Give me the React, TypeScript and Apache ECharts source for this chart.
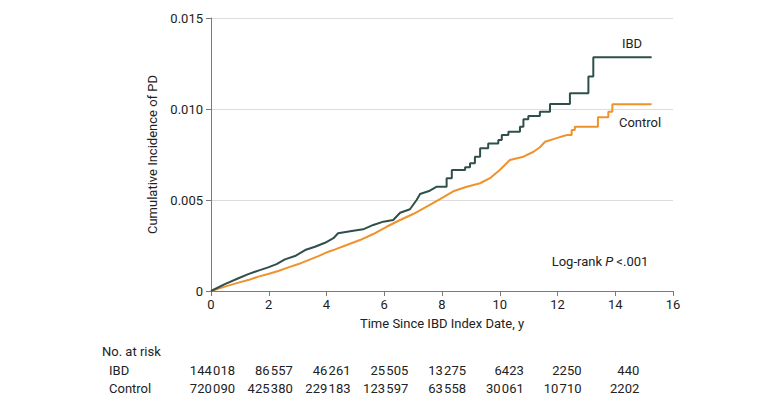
import React, { useEffect, useRef } from "react";
import * as echarts from "echarts";

// IBD cumulative incidence: dense early part (many tiny steps) and sparse stepped tail
const ibdEarly: [number, number][] = [
  [0, 0], [0.48, 0.00038], [0.95, 0.0007], [1.29, 0.00093], [1.64, 0.00112], [1.98, 0.0013],
  [2.27, 0.00148], [2.56, 0.00174], [2.91, 0.00192], [3.26, 0.00225], [3.6, 0.00243],
  [3.95, 0.00265], [4.24, 0.0029], [4.4, 0.00317], [4.93, 0.00331], [5.27, 0.00339],
  [5.62, 0.00363], [5.97, 0.00381], [6.31, 0.0039], [6.55, 0.0043], [6.89, 0.00449],
  [7.12, 0.005], [7.24, 0.00533], [7.58, 0.00551], [7.82, 0.00573], [7.93, 0.00573],
];
const ibdLate: [number, number][] = [
  [7.93, 0.00573], [8.16, 0.0062], [8.34, 0.00665], [8.8, 0.0068], [8.97, 0.00702],
  [9.14, 0.00738], [9.32, 0.00784], [9.6, 0.00811], [9.95, 0.0083], [10.07, 0.00857],
  [10.3, 0.00875], [10.7, 0.00903], [10.82, 0.00943], [10.99, 0.00962], [11.39, 0.00985],
  [11.74, 0.01027], [12.43, 0.01086], [13.07, 0.01178], [13.24, 0.01284], [15.26, 0.01284],
];

// Control cumulative incidence
const controlEarly: [number, number][] = [
  [0, 0], [0.48, 0.00024], [0.95, 0.00046], [1.29, 0.0006], [1.64, 0.00079], [1.98, 0.00093],
  [2.33, 0.0011], [2.68, 0.0013], [3.03, 0.00148], [3.37, 0.0017], [3.72, 0.00192],
  [4.07, 0.00216], [4.3, 0.00229], [4.7, 0.00253], [5.16, 0.0028], [5.62, 0.00313],
  [6.08, 0.00353], [6.55, 0.0039], [7.0, 0.00423], [7.47, 0.00463], [7.93, 0.00505],
  [8.39, 0.00548], [8.86, 0.00573], [9.32, 0.00592], [9.66, 0.0062], [10.0, 0.00665],
  [10.35, 0.0072], [10.82, 0.00738], [11.17, 0.00765], [11.39, 0.0079], [11.57, 0.0082],
  [11.97, 0.0084], [12.32, 0.00857],
];
const controlLate: [number, number][] = [
  [12.32, 0.00857], [12.49, 0.00885], [12.6, 0.00903], [13.4, 0.00954], [13.76, 0.00985],
  [13.9, 0.01026], [15.26, 0.01026],
];

const riskTimes = [0, 2, 4, 6, 8, 10, 12, 14];
const ibdAtRisk = [144018, 86557, 46261, 25505, 13275, 6423, 2250, 440];
const controlAtRisk = [720090, 425380, 229183, 123597, 63558, 30061, 10710, 2202];

const IBD_COLOR = "#2f4f4c";
const CONTROL_COLOR = "#f0922c";
const FONT = "Roboto";
const TEXT = "#222";

function fmt(n: number): string {
  const s = String(n);
  if (s.length <= 4) return s;
  return s.slice(0, s.length - 3) + "\u200A" + s.slice(s.length - 3);
}

export default function App() {
  const ref = useRef<HTMLDivElement>(null);
  useEffect(() => {
    document.body.style.margin = "0";
    const chart = echarts.init(ref.current!, null, { renderer: "svg" });
    const lineSeries = (name: string, data: [number, number][], color: string, step: any, z: number) => ({
      type: "line",
      name,
      data,
      step,
      showSymbol: false,
      lineStyle: { color, width: 2 },
      itemStyle: { color },
      z,
    });
    chart.setOption({
      animation: false,
      grid: { left: 211, right: 110, top: 18, bottom: 114 },
      xAxis: {
        type: "value",
        min: 0,
        max: 16,
        interval: 2,
        name: "Time Since IBD Index Date, y",
        nameLocation: "middle",
        nameGap: 26,
        nameTextStyle: { fontFamily: FONT, fontSize: 13, color: TEXT },
        axisLine: { show: true, lineStyle: { color: "#7a7a7a", width: 1 } },
        axisTick: { show: true, length: 5, lineStyle: { color: "#7a7a7a" } },
        axisLabel: { fontFamily: FONT, fontSize: 13, color: TEXT, margin: 7 },
        splitLine: { show: false },
      },
      yAxis: {
        type: "value",
        min: 0,
        max: 0.015,
        interval: 0.005,
        name: "Cumulative Incidence of PD",
        nameLocation: "middle",
        nameRotate: 90,
        nameGap: 47,
        nameTextStyle: { fontFamily: FONT, fontSize: 13, color: TEXT },
        axisLine: { show: true, lineStyle: { color: "#7a7a7a", width: 1 } },
        axisTick: { show: true, length: 5, lineStyle: { color: "#7a7a7a" } },
        axisLabel: {
          fontFamily: FONT,
          fontSize: 13,
          color: TEXT,
          margin: 8,
          formatter: (v: number) => (v === 0 ? "0" : v.toFixed(3)),
        },
        splitLine: { show: true, lineStyle: { color: "#dcdcdc", width: 1 } },
      },
      series: [
        lineSeries("Control", controlEarly, CONTROL_COLOR, false, 2),
        lineSeries("Control", controlLate, CONTROL_COLOR, "end", 2),
        lineSeries("IBD", ibdEarly, IBD_COLOR, false, 3),
        lineSeries("IBD", ibdLate, IBD_COLOR, "end", 3),
      ],
    });

    const textStyle = (t: string, x: number, y: number, align: string) => ({
      type: "text",
      x,
      y,
      style: {
        text: t,
        fontFamily: FONT,
        fontSize: 13,
        fill: TEXT,
        align,
        verticalAlign: "middle",
      },
    });

    const elements: any[] = [
      textStyle("IBD", 632, 43, "center"),
      textStyle("Control", 640, 122, "center"),
      {
        type: "text",
        x: 600,
        y: 261,
        style: {
          text: "{n|Log-rank }{i|P}{n| <.001}",
          align: "center",
          verticalAlign: "middle",
          rich: {
            n: { fontFamily: FONT, fontSize: 13, fill: TEXT, color: TEXT },
            i: { fontFamily: FONT, fontSize: 13, fill: TEXT, color: TEXT, fontStyle: "italic" },
          },
        },
      },
      textStyle("No. at risk", 102, 351, "left"),
      textStyle("IBD", 109, 370, "left"),
      textStyle("Control", 109, 388, "left"),
    ];
    riskTimes.forEach((t, i) => {
      const px = chart.convertToPixel({ xAxisIndex: 0 }, t) as number;
      elements.push(textStyle(fmt(ibdAtRisk[i]), px + 24, 370, "right"));
      elements.push(textStyle(fmt(controlAtRisk[i]), px + 24, 388, "right"));
    });
    chart.setOption({ graphic: { elements } });

    return () => chart.dispose();
  }, []);
  return <div ref={ref} style={{ width: 783, height: 405 }} />;
}
